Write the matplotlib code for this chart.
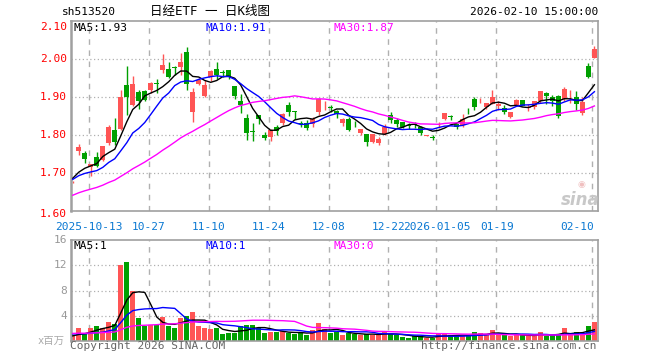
import numpy as np
import matplotlib
matplotlib.use("Agg")
import matplotlib.pyplot as plt

plt.rcParams['font.family'] = ['DejaVu Sans Mono', 'Noto Sans CJK SC']

# ---------------- data ----------------
tick_labels = ["2025-10-13", "10-27", "11-10", "11-24", "12-08", "12-22", "2026-01-05", "01-19", "02-10"]
tick_idx = [3, 13, 23, 33, 43, 53, 61, 71, 87]

opens = [1.677, 1.760, 1.754, 1.716, 1.743, 1.735, 1.781, 1.814, 1.817, 1.932,
         1.880, 1.915, 1.917, 1.919, 1.938, 1.972, 1.974, 1.979, 1.981, 2.020,
         1.862, 1.935, 1.904, 1.953, 1.974, 1.967, 1.972, 1.930, 1.890, 1.845,
         1.811, 1.854, 1.800, 1.795, 1.822, 1.833, 1.879, 1.863, 1.833, 1.833,
         1.830, 1.860, 1.879, 1.875, 1.865, 1.833, 1.842, 1.831, 1.807, 1.803,
         1.782, 1.779, 1.803, 1.854, 1.839, 1.834, 1.826, 1.830, 1.823, 1.799,
         1.796, 1.834, 1.843, 1.851, 1.829, 1.827, 1.872, 1.896, 1.892, 1.874,
         1.882, 1.877, 1.871, 1.849, 1.878, 1.893, 1.873, 1.874, 1.889, 1.911,
         1.900, 1.904, 1.895, 1.914, 1.901, 1.858, 1.982, 2.003]
highs = [1.681, 1.776, 1.759, 1.725, 1.756, 1.773, 1.827, 1.845, 1.919, 1.982,
         1.956, 1.919, 1.919, 1.941, 1.947, 2.014, 1.994, 1.983, 2.016, 2.033,
         1.924, 1.950, 1.946, 1.973, 1.992, 1.972, 1.972, 1.930, 1.908, 1.856,
         1.832, 1.854, 1.809, 1.816, 1.827, 1.858, 1.888, 1.864, 1.837, 1.840,
         1.849, 1.899, 1.889, 1.880, 1.867, 1.845, 1.847, 1.838, 1.816, 1.803,
         1.803, 1.796, 1.829, 1.862, 1.845, 1.834, 1.833, 1.834, 1.825, 1.802,
         1.800, 1.835, 1.858, 1.854, 1.831, 1.856, 1.872, 1.902, 1.899, 1.886,
         1.920, 1.889, 1.880, 1.860, 1.896, 1.893, 1.882, 1.891, 1.917, 1.915,
         1.906, 1.906, 1.926, 1.920, 1.916, 1.901, 1.989, 2.036]
lows = [1.675, 1.749, 1.728, 1.694, 1.716, 1.733, 1.775, 1.775, 1.815, 1.854,
        1.878, 1.869, 1.889, 1.911, 1.912, 1.963, 1.950, 1.959, 1.959, 1.919,
        1.836, 1.932, 1.902, 1.942, 1.947, 1.954, 1.947, 1.896, 1.858, 1.788,
        1.786, 1.830, 1.788, 1.786, 1.801, 1.827, 1.852, 1.842, 1.821, 1.814,
        1.821, 1.854, 1.867, 1.860, 1.845, 1.825, 1.812, 1.823, 1.801, 1.772,
        1.780, 1.775, 1.801, 1.833, 1.823, 1.818, 1.816, 1.820, 1.801, 1.797,
        1.788, 1.820, 1.841, 1.839, 1.816, 1.823, 1.857, 1.867, 1.886, 1.869,
        1.882, 1.867, 1.855, 1.846, 1.876, 1.876, 1.863, 1.869, 1.886, 1.882,
        1.877, 1.845, 1.889, 1.886, 1.867, 1.854, 1.950, 2.003]
closes = [1.678, 1.770, 1.737, 1.724, 1.718, 1.772, 1.821, 1.782, 1.900, 1.902,
          1.935, 1.889, 1.893, 1.937, 1.936, 1.985, 1.954, 1.977, 1.994, 1.935,
          1.915, 1.946, 1.932, 1.969, 1.959, 1.965, 1.954, 1.904, 1.880, 1.807,
          1.809, 1.843, 1.792, 1.814, 1.810, 1.856, 1.861, 1.861, 1.831, 1.818,
          1.842, 1.896, 1.880, 1.873, 1.855, 1.842, 1.814, 1.829, 1.816, 1.783,
          1.803, 1.790, 1.821, 1.841, 1.830, 1.823, 1.824, 1.828, 1.807, 1.801,
          1.794, 1.835, 1.858, 1.849, 1.821, 1.843, 1.871, 1.874, 1.894, 1.886,
          1.900, 1.882, 1.860, 1.860, 1.892, 1.878, 1.875, 1.891, 1.917, 1.904,
          1.889, 1.851, 1.921, 1.915, 1.882, 1.888, 1.954, 2.026]
volumes = [0.8, 2.0, 1.3, 2.1, 2.3, 2.1, 3.0, 2.75, 12.0, 12.5,
           8.0, 3.7, 2.3, 2.5, 2.5, 3.75, 2.3, 2.1, 3.7, 3.9,
           4.55, 2.3, 2.0, 1.85, 2.0, 1.06, 1.3, 1.27, 2.3, 2.5,
           2.5, 2.0, 1.27, 1.4, 1.4, 1.6, 1.27, 1.06, 1.3, 1.0,
           1.7, 2.85, 1.85, 1.3, 1.4, 0.9, 1.27, 1.16, 0.9, 1.06,
           1.0, 1.0, 1.48, 1.06, 0.9, 0.58, 0.48, 0.74, 0.74, 0.48,
           0.53, 1.06, 1.06, 0.9, 0.8, 0.74, 0.9, 1.38, 1.2, 0.95,
           1.7, 1.06, 1.0, 0.74, 1.0, 0.95, 0.74, 0.9, 1.38, 0.8,
           0.9, 1.16, 2.0, 0.9, 1.38, 1.1, 2.43, 2.96]

# sessions before the visible window (feed the moving averages)
prior_closes = [1.575, 1.582, 1.590, 1.585, 1.596, 1.602, 1.598, 1.610, 1.615, 1.620,
                1.628, 1.625, 1.633, 1.640, 1.645, 1.652, 1.648, 1.655, 1.662, 1.668,
                1.672, 1.678, 1.685, 1.683, 1.687, 1.690, 1.686, 1.692, 1.689]
prior_volumes = [1.3, 1.1, 1.4, 1.2, 1.0, 1.5, 1.3, 1.1, 1.2, 1.6,
                 1.4, 1.2, 1.0, 1.3, 1.1, 1.5, 1.2, 1.0, 1.3, 1.1,
                 1.4, 1.6, 1.3, 1.2, 1.5, 0.9, 0.7, 0.8, 0.8]

price_ticks = [1.60, 1.70, 1.80, 1.90, 2.00, 2.10]
vol_ticks = [4, 8, 12, 16]

# ---------------- helpers ----------------
W, H = 660, 360
def fx(px): return px / W
def fy(py): return 1 - py / H

RED = '#FF5555'
GREEN = '#00A000'
GRID = '#B0B0B0'
FRAME = '#A0A0A0'
TXTBLUE = '#0A78D2'

def ma(full, n, k):
    s = np.convolve(np.array(full), np.ones(n) / n, mode='valid')
    return s[-k:]

n = len(closes)
x = np.arange(n)
o = np.array(opens); c = np.array(closes); h = np.array(highs); l = np.array(lows)
up = c >= o
cols = np.where(up, RED, GREEN)

fig = plt.figure(figsize=(6.6, 3.6), dpi=100)
fig.patch.set_facecolor('white')

AXW = 527
ax = fig.add_axes([fx(71), fy(211.3), AXW / W, 190 / H])
vax = fig.add_axes([fx(71), fy(340.9), AXW / W, 100.8 / H])

for a in (ax, vax):
    a.set_xlim(-0.3, 87.6)
    a.set_xticks([]); a.set_yticks([])
    for s in a.spines.values():
        s.set_color(FRAME); s.set_linewidth(1.2)
    a.spines['left'].set_linewidth(1.8)
    for ti in tick_idx:
        a.axvline(ti - 0.35, color=GRID, lw=1, ls=(0, (4, 4)), zorder=0)

ax.set_ylim(1.60, 2.10)
vax.set_ylim(0, 16)
for p in price_ticks[1:-1]:
    ax.axhline(p, color=GRID, lw=0.9, ls=(0, (1, 2)), zorder=0)
for v in vol_ticks[:-1]:
    vax.axhline(v, color=GRID, lw=0.9, ls=(0, (1, 2)), zorder=0)

# candles
bw = 0.78
ax.vlines(x, l, h, colors=cols, lw=1, zorder=2)
body_bottom = np.minimum(o, c)
body_h = np.maximum(np.abs(c - o), 0.0012)
ax.bar(x, body_h, bottom=body_bottom, width=bw, color=cols, edgecolor=cols, lw=0, zorder=3)

# moving averages (price)
full_c = prior_closes + closes
ax.plot(x, ma(full_c, 5, n), color='black', lw=1, zorder=4)
ax.plot(x, ma(full_c, 10, n), color='#0000FF', lw=1, zorder=4)
ax.plot(x, ma(full_c, 30, n), color='#FF00FF', lw=1, zorder=4)

# volume
vax.bar(x, volumes, width=bw, color=cols, lw=0, zorder=2)
full_v = prior_volumes + volumes
vax.plot(x, ma(full_v, 5, n), color='black', lw=1, zorder=4)
vax.plot(x, ma(full_v, 10, n), color='#0000FF', lw=1, zorder=4)
vax.plot(x, ma(full_v, 30, n), color='#FF00FF', lw=1, zorder=4)

# ---------------- texts ----------------
fs = 8
fig.text(fx(62), fy(12), "sh513520", fontsize=fs, color='black', va='center', ha='left')
fig.text(fx(150), fy(12), "日经ETF 一 日K线图", fontsize=9, color='black', va='center', ha='left')
fig.text(fx(598), fy(12), "2026-02-10 15:00:00", fontsize=fs, color='black', va='center', ha='right')

# price labels
for p in price_ticks:
    ypx = 211.3 - (p - 1.60) * 380
    va = 'center'
    if p == 2.10:
        ypx = 22; va = 'top'
    if p == 1.60:
        ypx = 214
    fig.text(fx(67), fy(ypx), f"{p:.2f}", fontsize=fs, color='red', ha='right', va=va)

# volume labels
for v in vol_ticks:
    ypx = 340.9 - v * (100.8 / 16)
    fig.text(fx(67), fy(ypx), f"{v}", fontsize=fs, color='#999999', ha='right', va='center')
fig.text(fx(38), fy(341), "x百万", fontsize=7.5, color='#AAAAAA', ha='left', va='center')

# date labels
for ti, lab in zip(tick_idx, tick_labels):
    xpx = 71 + (ti - 0.35 + 0.3) * 6
    if ti == tick_idx[-1]:
        fig.text(fx(xpx + 1), fy(227), lab, fontsize=fs, color=TXTBLUE, ha='right', va='center')
    else:
        fig.text(fx(xpx), fy(227), lab, fontsize=fs, color=TXTBLUE, ha='center', va='center')

# MA legends
fig.text(fx(74), fy(28), "MA5:1.93", fontsize=fs, color='black', ha='left', va='center')
fig.text(fx(205), fy(28), "MA10:1.91", fontsize=fs, color='#0000FF', ha='left', va='center')
fig.text(fx(333), fy(28), "MA30:1.87", fontsize=fs, color='#FF00FF', ha='left', va='center')
fig.text(fx(74), fy(246), "MA5:1", fontsize=fs, color='black', ha='left', va='center')
fig.text(fx(205), fy(246), "MA10:1", fontsize=fs, color='#0000FF', ha='left', va='center')
fig.text(fx(333), fy(246), "MA30:0", fontsize=fs, color='#FF00FF', ha='left', va='center')

# footer
fig.text(fx(70), fy(346), "Copyright 2026 SINA.COM", fontsize=fs, color='#666666', ha='left', va='center')
fig.text(fx(597), fy(346), "http://finance.sina.com.cn", fontsize=fs, color='#666666', ha='right', va='center')

# watermark
fig.text(fx(580), fy(200), "sina", fontsize=12, color='#C8C8C8', ha='center', va='center',
         style='italic', fontweight='bold', family='DejaVu Sans')
fig.text(fx(581), fy(184), "◉", fontsize=6.5, color='#F0C0C0', ha='center', va='center', family='DejaVu Sans')

fig.savefig("out.png", dpi=100)
